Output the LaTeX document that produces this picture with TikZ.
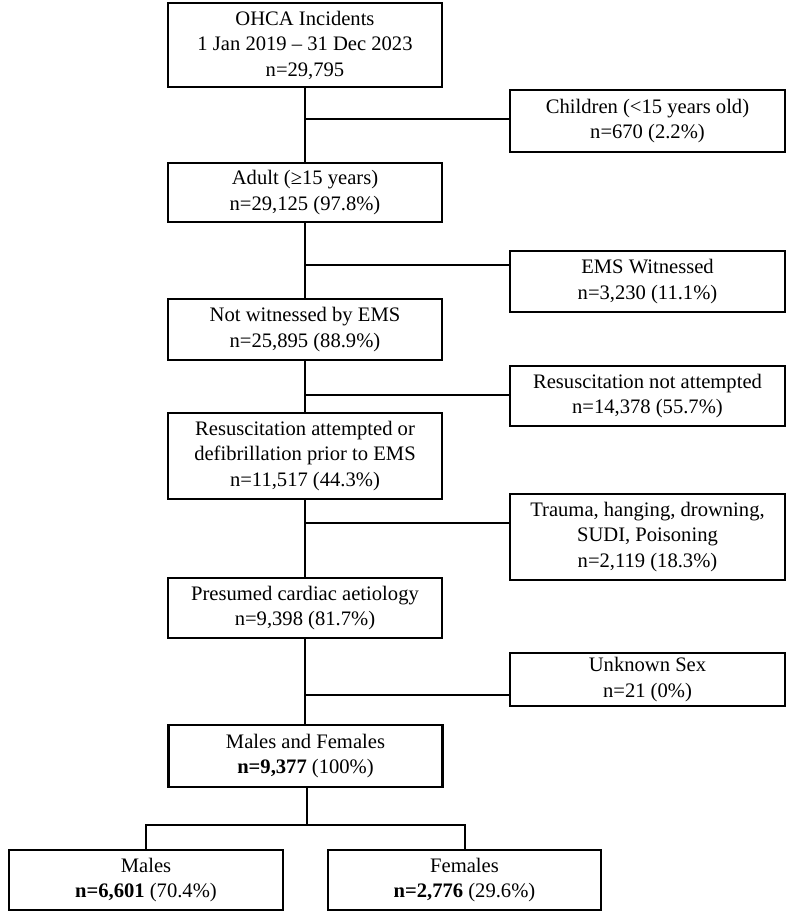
\documentclass[tikz,border=0pt]{standalone}
\usepackage{fontspec}
\setmainfont{Liberation Serif}
\begin{document}
\begin{tikzpicture}[x=1pt, y=-1pt, line width=2pt,
    box/.style={draw, line width=2.2pt, align=center, inner sep=0pt,
                font=\fontsize{20.6}{25.5}\selectfont},
    main/.style={box, minimum width=274pt},
    side/.style={box, minimum width=275pt}]
\useasboundingbox (0,0) rectangle (789,913);
% main column
\node[main, minimum height=84pt] (ohca) at (305,45) {OHCA Incidents\\1 Jan 2019 -- 31 Dec 2023\\n=29,795};
\node[main, minimum height=59pt] (adult) at (305,192.5) {Adult (≥15 years)\\n=29,125 (97.8\%)};
\node[main, minimum height=61pt] (notems) at (305,329.5) {Not witnessed by EMS\\n=25,895 (88.9\%)};
\node[main, minimum height=86pt] (resus) at (305,456) {Resuscitation attempted or\\defibrillation prior to EMS\\n=11,517 (44.3\%)};
\node[main, minimum height=60pt] (cardiac) at (305,608) {Presumed cardiac aetiology\\n=9,398 (81.7\%)};
\node[main, minimum height=62pt] (mf) at (305.5,756) {Males and Females\\\textbf{n=9,377} (100\%)};
% exclusions
\node[side, minimum height=62pt] (child) at (647.5,121) {Children (<15 years old)\\n=670 (2.2\%)};
\node[side, minimum height=61pt] (emsw) at (647.5,281.5) {EMS Witnessed\\n=3,230 (11.1\%)};
\node[side, minimum height=60pt] (noresus) at (647.5,396) {Resuscitation not attempted\\n=14,378 (55.7\%)};
\node[side, minimum height=86pt] (trauma) at (647.5,537) {Trauma, hanging, drowning,\\SUDI, Poisoning\\n=2,119 (18.3\%)};
\node[side, minimum height=53pt] (unksex) at (647.5,679.5) {Unknown Sex\\n=21 (0\%)};
% split by sex
\node[box, minimum width=274pt, minimum height=60pt] (males) at (146,880) {Males\\\textbf{n=6,601} (70.4\%)};
\node[box, minimum width=273pt, minimum height=60pt] (females) at (464.5,880) {Females\\\textbf{n=2,776} (29.6\%)};

\draw (ohca.south) -- (adult.north);
\draw (adult.south) -- (notems.north);
\draw (notems.south) -- (resus.north);
\draw (resus.south) -- (cardiac.north);
\draw (cardiac.south) -- (mf.north -| cardiac.south);

\coordinate (b1) at (305,119);
\coordinate (b2) at (305,265);
\coordinate (b3) at (305,395);
\coordinate (b4) at (305,523);
\coordinate (b5) at (305,695);
\draw (b1) -- (b1 -| child.west);
\draw (b2) -- (b2 -| emsw.west);
\draw (b3) -- (b3 -| noresus.west);
\draw (b4) -- (b4 -| trauma.west);
\draw (b5) -- (b5 -| unksex.west);

\coordinate (split) at (307,825);
\draw (mf.south -| split) -- (split);
\draw (males.north) |- (split) -| (females.north);
\end{tikzpicture}
\end{document}
